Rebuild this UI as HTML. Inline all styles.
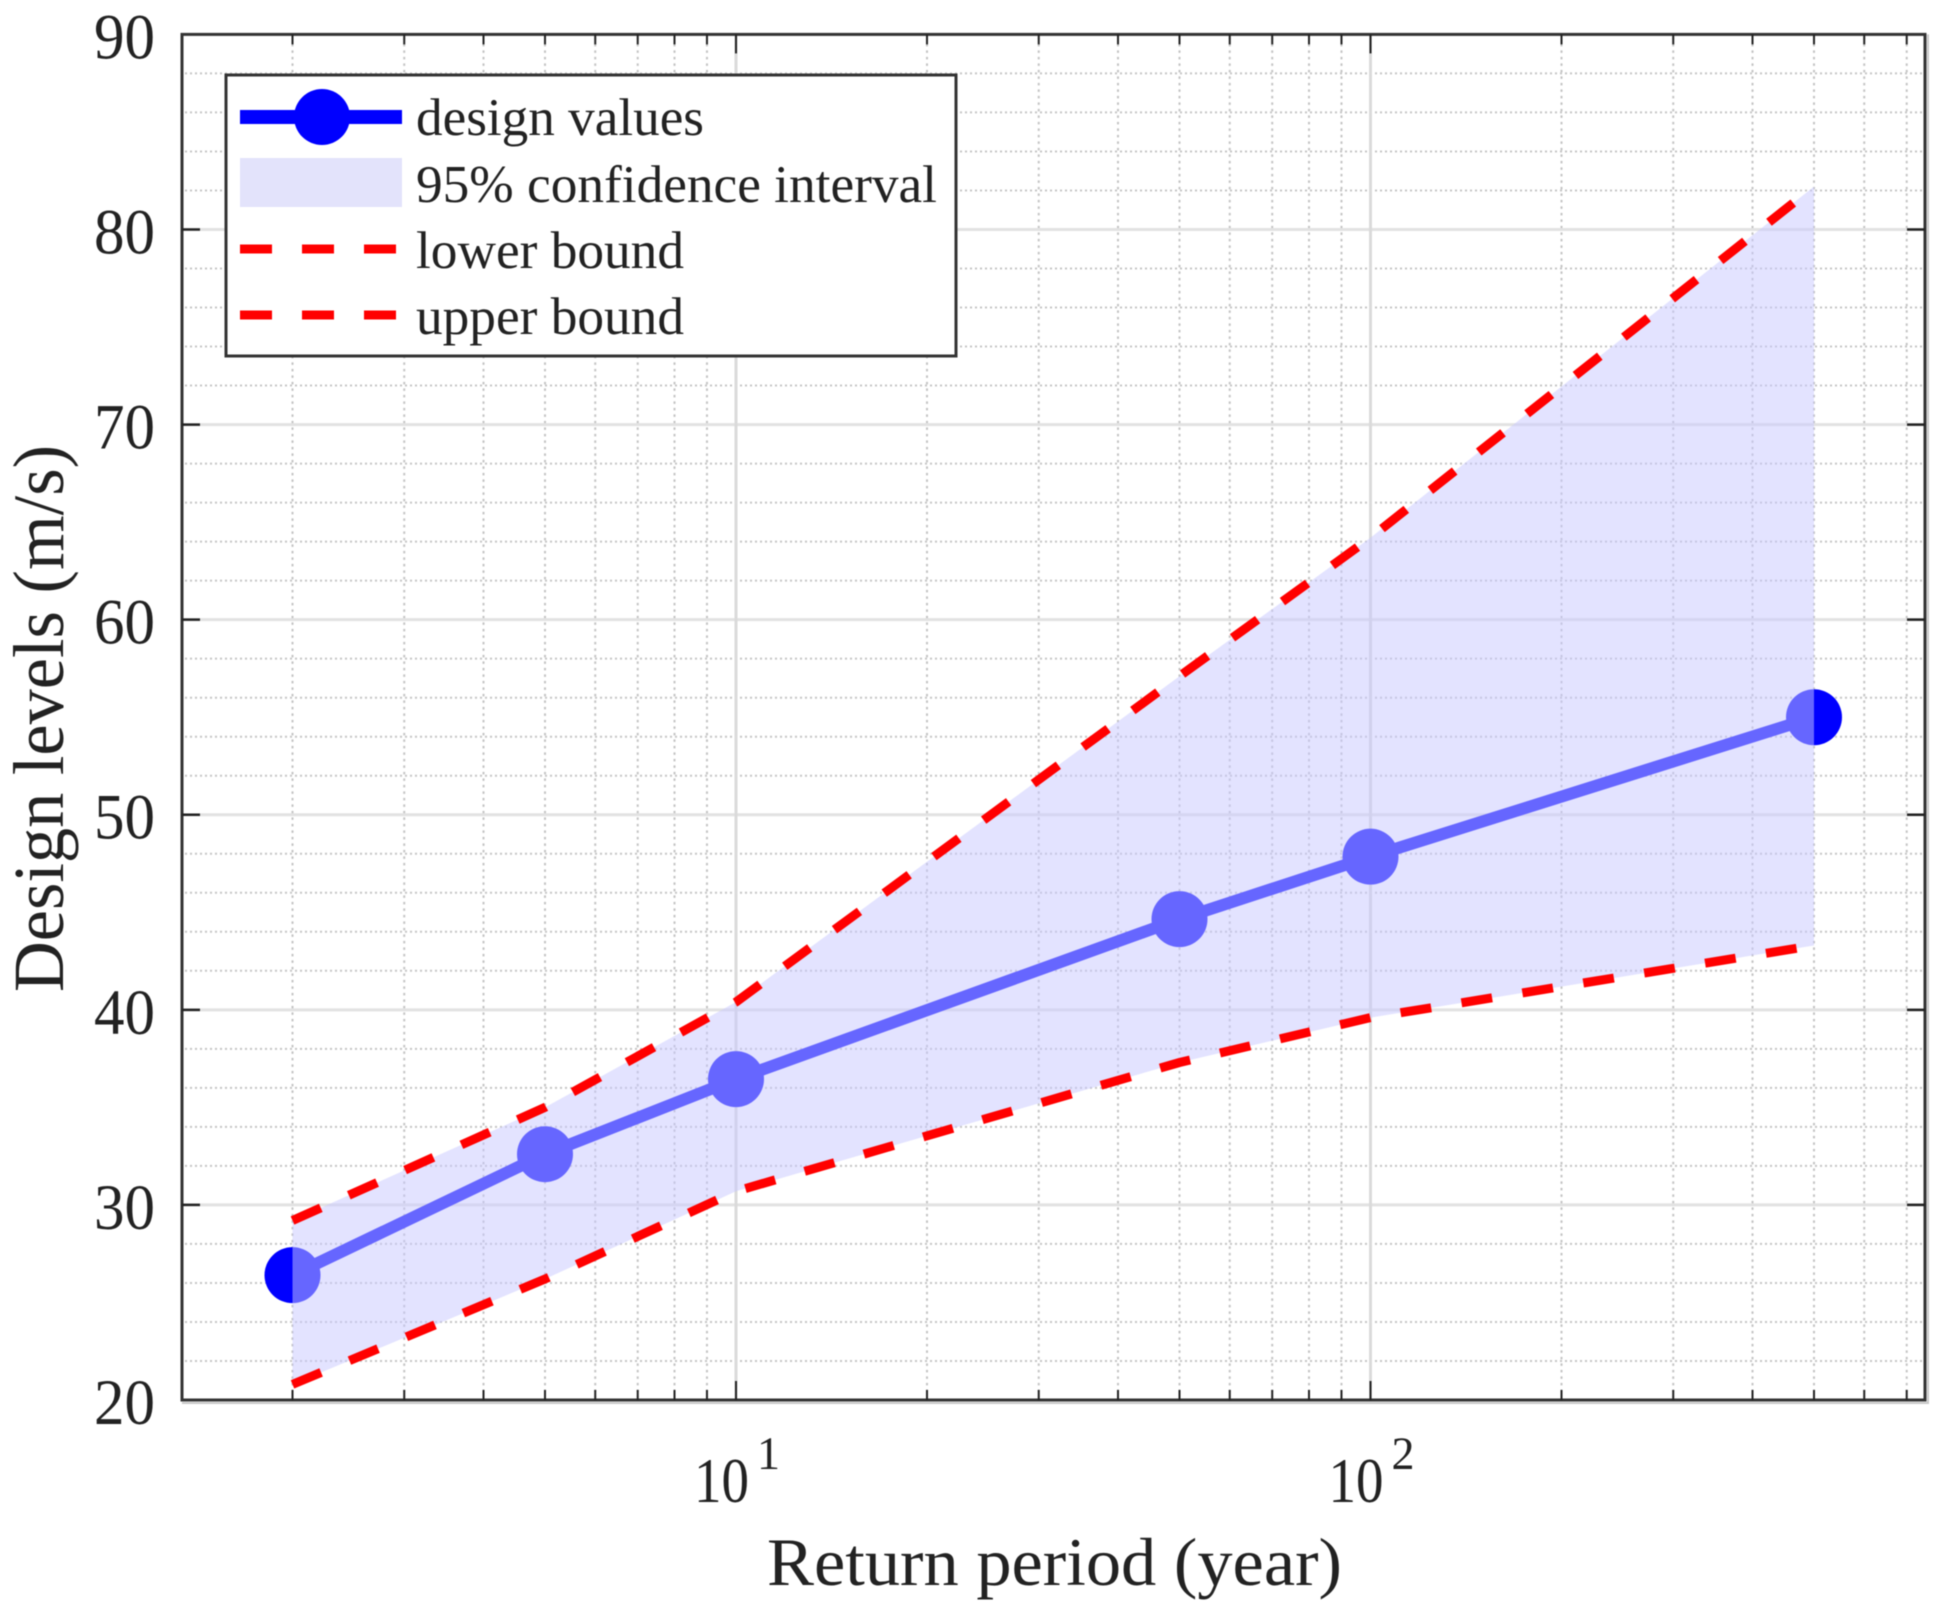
<!DOCTYPE html>
<html lang="en">
<head>
<meta charset="utf-8">
<title>Design levels vs return period</title>
<style>
html,body{margin:0;padding:0;background:#fff;width:1945px;height:1615px;overflow:hidden}
svg{display:block;filter:blur(0.5px)}
text{font-family:"Liberation Serif",serif;fill:#222}
</style>
</head>
<body>
<svg id="chart" xmlns="http://www.w3.org/2000/svg" width="1945" height="1615" viewBox="0 0 1945 1615">
  <rect x="0" y="0" width="1945" height="1615" fill="#fff"/>
  <g id="grid"></g>
  <g id="series"></g>
  <g id="frame"></g>
  <g id="labels"></g>
  <text x="767" y="1585" font-size="68" textLength="575" lengthAdjust="spacingAndGlyphs">Return period (year)</text>
  <text transform="translate(63,992) rotate(-90)" font-size="72" textLength="547" lengthAdjust="spacingAndGlyphs">Design levels (m/s)</text>
  <g>
    <rect x="226" y="75" width="730" height="281" fill="#fff" stroke="#333" stroke-width="3"/>
    <line x1="240" y1="117" x2="402" y2="117" stroke="#0000ff" stroke-width="14"/>
    <circle cx="322" cy="117" r="28" fill="#0000ff"/>
    <text x="416" y="135" font-size="53" textLength="288" lengthAdjust="spacingAndGlyphs">design values</text>
    <rect x="240" y="158" width="162" height="49" fill="#e3e3fb"/>
    <text x="416" y="202" font-size="53" textLength="521" lengthAdjust="spacingAndGlyphs">95% confidence interval</text>
    <line x1="240" y1="249" x2="398" y2="249" stroke="#ff0000" stroke-width="9" stroke-dasharray="32 30"/>
    <text x="416" y="268" font-size="53" textLength="268" lengthAdjust="spacingAndGlyphs">lower bound</text>
    <line x1="240" y1="315" x2="398" y2="315" stroke="#ff0000" stroke-width="9" stroke-dasharray="32 30"/>
    <text x="416" y="334" font-size="53" textLength="268" lengthAdjust="spacingAndGlyphs">upper bound</text>
  </g>
</svg>
<script>
const returnPeriods = [2, 5, 10, 50, 100, 500];
const designValues = [26.4, 32.6, 36.45, 44.65, 47.85, 55.0];
const lowerBound = [20.8, 26.2, 30.7, 37.3, 39.6, 43.3];
const upperBound = [29.2, 35.0, 40.4, 57.1, 64.2, 82.2];
const yTicks = [20, 30, 40, 50, 60, 70, 80, 90];
const yMinorTicks = [22, 24, 26, 28, 32, 34, 36, 38, 42, 44, 46, 48, 52, 54, 56, 58, 62, 64, 66, 68, 72, 74, 76, 78, 82, 84, 86, 88];
const xMajorTicks = [10, 100];
const xMajorExponents = ['1', '2'];
const xMinorTicks = [2, 3, 4, 5, 6, 7, 8, 9, 20, 30, 40, 50, 60, 70, 80, 90, 200, 300, 400, 500, 600, 700];

const NS = 'http://www.w3.org/2000/svg';
const plotLeft = 182, plotRight = 1925, plotTop = 34.4, plotBottom = 1400;
const xScale = t => 736 + (Math.log10(t) - 1) * 634.5;
const yScale = v => plotBottom - (v - 20) * (plotBottom - plotTop) / 70;

function mk(parent, tag, attrs) {
  const el = document.createElementNS(NS, tag);
  for (const k in attrs) el.setAttribute(k, attrs[k]);
  parent.appendChild(el);
  return el;
}
const grid = document.getElementById('grid');
const series = document.getElementById('series');
const frame = document.getElementById('frame');
const labels = document.getElementById('labels');

yMinorTicks.forEach(v => {
  const el = mk(grid, 'line', {x1: plotLeft + 3, x2: plotRight - 3, y1: yScale(v), y2: yScale(v), stroke: '#c4c4c4', 'stroke-width': 2, 'stroke-dasharray': '2 3'});
  
  
});
xMinorTicks.forEach(t => {
  const el = mk(grid, 'line', {x1: xScale(t), x2: xScale(t), y1: plotTop + 3, y2: plotBottom - 3, stroke: '#c4c4c4', 'stroke-width': 2, 'stroke-dasharray': '2.5 4'});
  
  
});
yTicks.slice(1, -1).forEach(v => {
  const el = mk(grid, 'line', {x1: plotLeft, x2: plotRight, y1: yScale(v), y2: yScale(v), stroke: '#e2e2e2', 'stroke-width': 3});
  
  
});
xMajorTicks.forEach(t => {
  const el = mk(grid, 'line', {x1: xScale(t), x2: xScale(t), y1: plotTop, y2: plotBottom, stroke: '#dadada', 'stroke-width': 3});
  
  
});

const toPts = vals => vals.map((v, i) => xScale(returnPeriods[i]) + ',' + yScale(v));

const designLine = mk(series, 'polyline', {points: toPts(designValues).join(' '), fill: 'none', stroke: '#0000ff', 'stroke-width': 12});


designValues.forEach((v, i) => {
  const c = mk(series, 'circle', {cx: xScale(returnPeriods[i]), cy: yScale(v), r: 28, fill: '#0000ff'});
  
  
});

const band = mk(series, 'polygon', {points: toPts(upperBound).concat(toPts(lowerBound).reverse()).join(' '), fill: 'rgb(200,200,255)', 'fill-opacity': 0.51});



const lowerLine = mk(series, 'polyline', {points: toPts(lowerBound).join(' '), fill: 'none', stroke: '#ff0000', 'stroke-width': 9, 'stroke-dasharray': '31 30.7'});


const upperLine = mk(series, 'polyline', {points: toPts(upperBound).join(' '), fill: 'none', stroke: '#ff0000', 'stroke-width': 9, 'stroke-dasharray': '31 30.7'});



const shadow = mk(frame, 'path', {d: `M${plotRight + 3} ${plotTop} V${plotBottom + 3} H${plotLeft}`, fill: 'none', stroke: '#c8c8c8', 'stroke-width': 2});


const box = mk(frame, 'rect', {x: plotLeft, y: plotTop, width: plotRight - plotLeft, height: plotBottom - plotTop, fill: 'none', stroke: '#333', 'stroke-width': 3});



xMinorTicks.forEach(t => {
  const x = xScale(t);
  const a = mk(frame, 'line', {x1: x, x2: x, y1: plotBottom, y2: plotBottom - 10, stroke: '#222', 'stroke-width': 2});
  
  
  const b = mk(frame, 'line', {x1: x, x2: x, y1: plotTop, y2: plotTop + 10, stroke: '#222', 'stroke-width': 2});
  
  
});
xMajorTicks.forEach((t, i) => {
  const x = xScale(t);
  const a = mk(frame, 'line', {x1: x, x2: x, y1: plotBottom, y2: plotBottom - 19, stroke: '#222', 'stroke-width': 2});
  
  
  const b = mk(frame, 'line', {x1: x, x2: x, y1: plotTop, y2: plotTop + 19, stroke: '#222', 'stroke-width': 2});
  
  
  const base = mk(labels, 'text', {x: x - 42, y: 1502, 'font-size': 63, textLength: 55, lengthAdjust: 'spacingAndGlyphs'});
  base.textContent = '10';
  
  
  const sup = mk(labels, 'text', {x: x + 21, y: 1469, 'font-size': 47, textLength: 23, lengthAdjust: 'spacingAndGlyphs'});
  sup.textContent = xMajorExponents[i];
  
  
});
yTicks.forEach(v => {
  const y = yScale(v);
  if (v !== 20 && v !== 90) {
    const a = mk(frame, 'line', {x1: plotLeft, x2: plotLeft + 18, y1: y, y2: y, stroke: '#222', 'stroke-width': 2.5});
    
    
    const b = mk(frame, 'line', {x1: plotRight, x2: plotRight - 18, y1: y, y2: y, stroke: '#222', 'stroke-width': 2.5});
    
    
  }
  const t = mk(labels, 'text', {x: 94, y: y + 24, 'font-size': 65, textLength: 61, lengthAdjust: 'spacingAndGlyphs'});
  t.textContent = String(v);
  
  
});
</script>
</body>
</html>
